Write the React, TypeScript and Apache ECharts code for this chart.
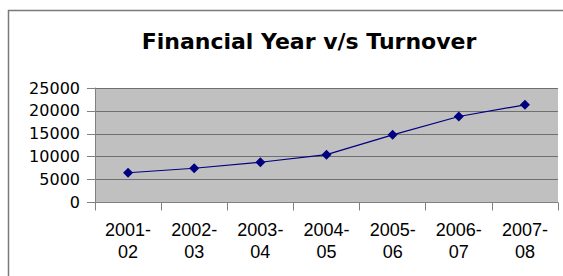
import React, { useEffect, useRef } from "react";
import * as echarts from "echarts";

const titleText = "Financial Year v/s Turnover";
const categories = ["2001-\n02", "2002-\n03", "2003-\n04", "2004-\n05", "2005-\n06", "2006-\n07", "2007-\n08"];
const turnover = [6500, 7480, 8790, 10450, 14780, 18780, 21330];
const yTicks = { min: 0, max: 25000, interval: 5000 };

export default function App() {
  const ref = useRef<HTMLDivElement>(null);
  useEffect(() => {
    const chart = echarts.init(ref.current!, null, { renderer: "svg" });
    chart.setOption({
      animation: false,
      backgroundColor: "#ffffff",
      title: {
        text: titleText,
        left: 304,
        top: 25,
        textAlign: "center",
        textStyle: { fontFamily: "DejaVu Sans", fontWeight: "bold", fontSize: 22, color: "#000" },
      },
      graphic: [
        {
          type: "rect",
          shape: { x: 8.5, y: 10.5, width: 600, height: 300 },
          style: { fill: "none", stroke: "#7a7a7a", lineWidth: 1.5 },
          silent: true,
        },
      ],
      grid: {
        left: 95,
        right: 5,
        top: 88,
        bottom: 73.5,
        show: true,
        backgroundColor: "#c0c0c0",
        borderWidth: 0,
      },
      xAxis: {
        type: "category",
        data: categories,
        boundaryGap: true,
        axisLine: { show: true, lineStyle: { color: "#808080", width: 1 } },
        axisTick: { show: true, length: 8, lineStyle: { color: "#808080" } },
        axisLabel: {
          interval: 0,
          margin: 16,
          fontFamily: "Liberation Sans",
          fontSize: 18,
          lineHeight: 22,
          color: "#000",
        },
        splitLine: { show: false },
      },
      yAxis: {
        type: "value",
        min: yTicks.min,
        max: yTicks.max,
        interval: yTicks.interval,
        axisLine: { show: true, lineStyle: { color: "#808080", width: 1 } },
        axisTick: { show: true, length: 8, lineStyle: { color: "#808080" } },
        axisLabel: {
          margin: 15,
          fontFamily: "DejaVu Sans",
          fontSize: 16,
          color: "#000",
          formatter: (v: number) => String(v),
        },
        splitLine: { show: true, lineStyle: { color: "#6f6f6f", width: 1 } },
      },
      series: [
        {
          type: "line",
          data: turnover,
          symbol: "diamond",
          symbolSize: 10,
          lineStyle: { color: "#000080", width: 1.2 },
          itemStyle: { color: "#000080" },
        },
      ],
    });
    return () => chart.dispose();
  }, []);
  return (
    <div
      ref={ref}
      style={{ position: "absolute", left: 0, top: 0, width: 563, height: 276 }}
    />
  );
}
